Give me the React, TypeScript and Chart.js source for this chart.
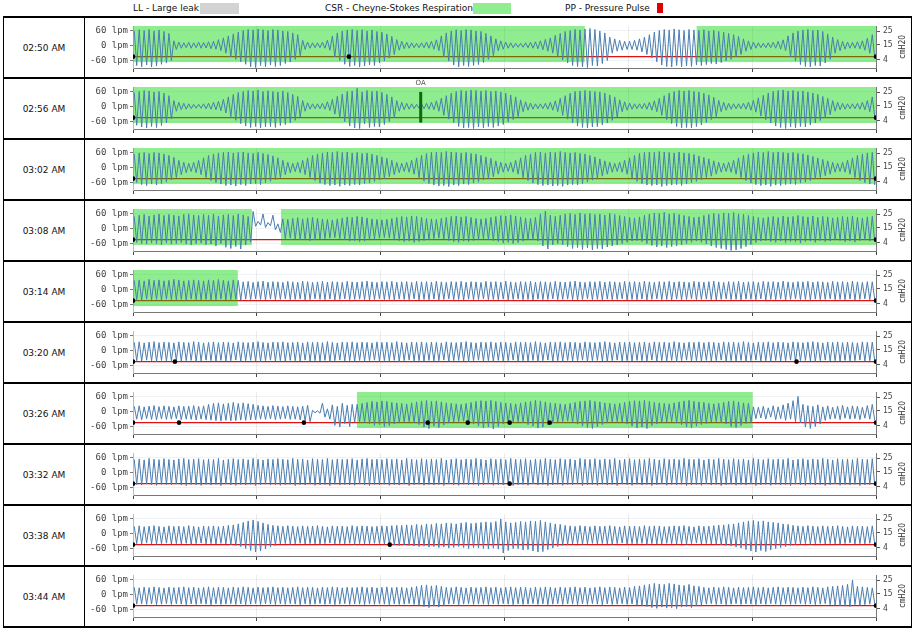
import React, { useEffect, useRef } from "react";
import { Chart, registerables } from "chart.js";
Chart.register(...registerables);

// ---------- data ----------
const ROW_TIMES = ["02:50 AM", "02:56 AM", "03:02 AM", "03:08 AM", "03:14 AM", "03:20 AM", "03:26 AM", "03:32 AM", "03:38 AM", "03:44 AM"];
const SPAN_SECONDS = 360;
const X_TICKS = [0, 60, 120, 180, 240, 300, 360];
const FLOW_TICKS = [-60, 0, 60];
const PRESSURE_TICKS = [4, 15, 25];

// flow peaks (inspiration) and troughs (expiration) per breath, lpm
const FLOW_PEAKS_1 = [60,65,62,66,60,64,58,50, 20,15,12,14,12,15,13,16,18, 25,32,40,48,55, 62,66,64,68,65,62,66,64,60,58,52,45, 22,15,12,12,15,22, 40,52,60,64,66,62,65,60,64,58,55,48,38, 25,18,14,12,10,12,15,18,24, 40,52,60,65,62,66,64,60,58,50,40, 28,20,15,12,10,10,12,14,16,20,26,32, 42,50,58,62,66,64,68, 70,66,60,52, 35,28,22,18,18,22,28,35, 45,55,62,66,64,68,65,62,66,64,62,65,60,62,58,55,50,45,38, 28,20,15,12,10,12,14,18,24, 40,52,60,64,66,62,64,58,48, 35,25,18,15,14,16,20,30,45];
const FLOW_TROUGHS_1 = [-80,-85,-78,-86,-82,-75,-70,-60, -15,-10,-8,-10,-8,-10,-9,-12,-14, -20,-30,-45,-55,-65, -75,-85,-88,-80,-86,-78,-84,-80,-72,-66,-55,-40, -15,-10,-8,-8,-10,-18, -45,-60,-75,-84,-80,-86,-82,-78,-80,-70,-62,-50,-35, -18,-12,-10,-8,-8,-8,-10,-14,-20, -45,-62,-78,-86,-80,-84,-80,-76,-68,-55,-40, -20,-14,-10,-8,-6,-6,-8,-10,-12,-16,-22,-30, -45,-58,-70,-80,-84,-86,-88, -80,-82,-72,-60, -30,-22,-18,-15,-15,-18,-25,-35, -50,-65,-78,-84,-86,-80,-85,-82,-84,-78,-80,-76,-72,-74,-68,-60,-55,-45,-35, -22,-15,-10,-8,-8,-8,-10,-14,-20, -45,-62,-76,-84,-86,-80,-82,-70,-55, -30,-20,-14,-10,-10,-12,-18,-30,-50];

const FLOW_PEAKS_2 = [58,62,66,64,60,62,55,45, 25,18,14,12,10,10,12,14,18,22, 30,40,50,58, 62,66,64,68,62,65,62,60,64,58,50,42, 25,16,12,12,14,20, 30,42,52,62,64,75,60,66,62,64,58,50,40, 25,18,14,12,10,12,14,18,24, 35,45,55,62,66,64,68,66,64,66,62,64,60,55,48,40, 28,20,15,12,12,14,18,24, 34,45,55,62,64,66,64,62,60,56,48,40, 28,20,15,12,12,14,18,24, 34,45,56,62,66,64,66,62,60,55,48,38, 26,18,14,12,12,14,18,26, 36,46,56,62,66,68,64,66,62,64,60,56,50,42,34, 25,18,14,12,12,14,18,25,40];
const FLOW_TROUGHS_2 = [-75,-82,-86,-80,-84,-76,-65,-50, -18,-12,-10,-8,-6,-6,-8,-10,-12,-16, -25,-40,-55,-68, -78,-84,-80,-86,-82,-80,-84,-76,-72,-66,-55,-42, -18,-10,-8,-8,-10,-15, -30,-45,-60,-78,-86,-88,-70,-84,-80,-82,-72,-60,-45, -18,-12,-10,-8,-6,-8,-10,-12,-18, -35,-50,-65,-80,-86,-84,-88,-82,-86,-80,-84,-78,-72,-62,-52,-40, -20,-14,-10,-8,-8,-10,-14,-20, -35,-50,-66,-78,-84,-86,-82,-80,-74,-66,-55,-42, -20,-14,-10,-8,-8,-10,-14,-20, -35,-52,-68,-80,-86,-84,-86,-80,-74,-64,-52,-40, -20,-14,-10,-8,-8,-10,-14,-22, -38,-52,-66,-78,-84,-88,-82,-86,-80,-82,-74,-66,-56,-44,-32, -18,-12,-10,-8,-8,-10,-12,-20,-40];

const FLOW_PEAKS_3 = [55,60,62,58,62,60,56,50,42, 30,22,18,22,30, 40,50,56,60,62,64,60,62,64,60,58,62,58,54,48,40, 30,22,18,22,30, 40,50,56,60,64,62,66,62,64,60,62,58,60,55,50,44,38, 30,22,18,22,30, 40,50,58,62,64,62,66,64,62,60,62,58,56,50,44,38, 28,22,18,22,30, 40,50,56,62,64,60,64,62,66,62,60,62,58,56,50,44,36, 28,22,18,22,30, 40,50,58,62,64,62,66,64,62,60,64,60,58,54,48,42,36, 28,22,18,22,30, 40,50,56,60,64,62,66,62,64,62,60,62,58,56,52,46,40,34, 28,22,18,22,30, 40,50,56,60,62];
const FLOW_TROUGHS_3 = [-60,-68,-72,-66,-70,-64,-58,-50,-40, -28,-20,-15,-20,-28, -40,-52,-60,-66,-72,-70,-74,-68,-72,-66,-64,-68,-60,-55,-48,-40, -28,-20,-16,-20,-28, -40,-52,-62,-68,-72,-70,-75,-70,-72,-68,-70,-64,-62,-56,-50,-44,-36, -28,-20,-15,-18,-26, -40,-54,-64,-70,-74,-72,-76,-70,-72,-66,-68,-62,-58,-50,-44,-36, -26,-18,-15,-18,-26, -40,-52,-62,-68,-72,-70,-74,-72,-75,-70,-68,-70,-64,-58,-50,-42,-34, -26,-18,-15,-18,-26, -42,-55,-64,-70,-72,-70,-76,-72,-70,-68,-72,-66,-60,-55,-48,-40,-34, -26,-18,-15,-18,-26, -40,-52,-62,-68,-72,-70,-75,-70,-72,-68,-66,-68,-62,-58,-52,-46,-40,-32, -26,-18,-15,-18,-26, -40,-52,-60,-66,-70];

const FLOW_PEAKS_4 = [50,55,58,52,56,60,54,58,55,52,58,60,56,54,58,55,60,52,56,58,54,60,56,50, 70,30,60,25,55,20, 40,38,42,45,40,44,46,42,40,38, 36,40,44,48,46,50,48,44,40,38, 36,38,42,46,50,48,52,50,46,42, 40,38,42,46,50,52,48,50,46,42, 40,42,46,50,54,52,56,52,48,44,42,46, 60,72,55,50, 55,60,62,58,64,60,62,58,60,56,62,58,54,50,46,44, 48,55,60,64,62,66,60,62,58,54,50,46, 48,54,58,62,60,64,62,66,60,58,54,50,46, 44,48,50,46,52,48,50,54,50,48,52,46,50,48,44,46,50,48,52,46,44,48,50];
const FLOW_TROUGHS_4 = [-55,-60,-62,-58,-60,-65,-58,-62,-60,-56,-62,-66,-60,-58,-64,-62,-70,-60,-75,-80,-72,-82,-66,-55, 10,15,5,12,-5,-15, -40,-38,-42,-45,-44,-48,-46,-42,-40,-38, -36,-40,-45,-50,-48,-52,-50,-46,-42,-38, -36,-38,-44,-48,-52,-50,-55,-52,-48,-44, -40,-38,-42,-48,-52,-55,-50,-52,-48,-44, -40,-44,-48,-52,-58,-55,-60,-56,-50,-46,-44,-50, -70,-82,-65,-60, -65,-72,-80,-76,-84,-78,-86,-80,-82,-74,-70,-66,-60,-55,-50,-48, -52,-60,-68,-74,-70,-76,-72,-70,-66,-60,-55,-50, -55,-62,-70,-76,-80,-84,-88,-86,-80,-72,-64,-56,-50, -48,-52,-55,-50,-56,-52,-54,-58,-52,-50,-55,-48,-52,-50,-46,-48,-52,-50,-54,-48,-46,-50,-52];

const FLOW_PEAKS_5 = [38,40,36,42,38,40,36,38,42,40,36,38,40,38,36,40,38,42,38,36,40,38,
32,34,30,33,35,31,33,32,30,34, 32,31,35,33,30,32,34,31,33,32, 30,34,32,31,33,35,32,30,33,32, 34,31,32,33,30,34,32,33,31,35, 32,30,33,32,34,31,33,32,30,34, 32,33,31,35,32,30,33,32,34,31, 33,32,30,34,32,31,33,35,32,30, 33,32,34,31,33,32,30,34,32,33, 31,35,32,30,33,32,34,31,33,32, 30,34,32,31,33,35,32,30,33,32, 34,31,32,33,30,34,32,33,31,35, 32,30,33,32,34,31,33,32,30,34, 32,33,31,35,32,30,33,32];
const FLOW_TROUGHS_5 = [-40,-42,-38,-41,-39,-42,-38,-40,-41,-39,-42,-38,-40,-41,-39,-42,-40,-38,-41,-40,-39,-42,
-38,-40,-37,-39,-41,-38,-40,-39,-37,-40, -39,-38,-41,-40,-37,-39,-40,-38,-41,-39, -37,-40,-39,-38,-40,-41,-39,-37,-40,-39, -41,-38,-39,-40,-37,-41,-39,-40,-38,-41, -39,-37,-40,-39,-41,-38,-40,-39,-37,-40, -39,-40,-38,-41,-39,-37,-40,-39,-41,-38, -40,-39,-37,-40,-39,-38,-40,-41,-39,-37, -40,-39,-41,-38,-40,-39,-37,-41,-39,-40, -38,-41,-39,-37,-40,-39,-41,-38,-40,-39, -37,-40,-39,-38,-40,-41,-39,-37,-40,-39, -41,-38,-39,-40,-37,-41,-39,-40,-38,-41, -39,-37,-40,-39,-41,-38,-40,-39,-37,-40, -39,-40,-38,-41,-39,-37,-40,-39];

const FLOW_PEAKS_6 = [34,36,32,35,37,33,35,34,32,36, 34,33,37,35,32,34,36,33,35,34, 32,36,34,33,35,37,34,32,35,34, 36,33,34,35,32,36,34,35,33,37, 34,32,35,34,36,33,35,34,32,36, 34,35,33,37,34,32,35,34,36,33, 35,34,32,36,34,33,35,37,34,32, 35,34,36,33,35,34,32,36,34,35, 33,37,34,32,35,34,36,33,35,34, 32,36,34,33,35,37,34,32,35,34, 36,33,34,35,32,36,34,35,33,37, 34,32,35,34,36,33,35,34,32,36, 34,35,33,37,34,32,35,34,36,33, 35,34,32,36,34,33,35,37,34,32, 35,34,36,33,35,34,32,36,34,35];
const FLOW_TROUGHS_6 = [-40,-42,-38,-41,-43,-39,-41,-40,-38,-42, -40,-39,-43,-41,-38,-40,-42,-39,-41,-40, -38,-42,-40,-39,-41,-43,-40,-38,-41,-40, -42,-39,-40,-41,-38,-42,-40,-41,-39,-43, -40,-38,-41,-40,-42,-39,-41,-40,-38,-42, -40,-41,-39,-43,-40,-38,-41,-40,-42,-39, -41,-40,-38,-42,-40,-39,-41,-43,-40,-38, -41,-40,-42,-39,-41,-40,-38,-42,-40,-41, -39,-43,-40,-38,-41,-40,-42,-39,-41,-40, -38,-42,-40,-39,-41,-43,-40,-38,-41,-40, -42,-39,-40,-41,-38,-42,-40,-41,-39,-43, -40,-38,-41,-40,-42,-39,-41,-40,-38,-42, -40,-41,-39,-43,-40,-38,-41,-40,-42,-39, -41,-40,-38,-42,-40,-39,-41,-43,-40,-38, -41,-40,-42,-39,-41,-40,-38,-42,-40,-41];

const FLOW_PEAKS_7 = [22,24,20,23,25,21,24,22,20,24, 22,23,25,22,24,30,34,36,32,35, 38,34,36,33,30,26,24,22,25,23, 21,24,22,20,23,26, 6,4,35,12, 28,22,34,26,30,
30,34,38,42,40,44,42,38,36,34, 32,36,40,44,46,42,44,40,36,34, 32,30,34,38,42,45,44,46,42,38, 36,34,32,36,40,42,46,44,40,36, 34,32,30,34,38,42,44,46,42,40, 36,34,32,34,38,42,45,44,46,42, 38,36,34,32,36,40,44,46,42,40, 38,34,32,34,38,42,44,40,36,34,
20,18,22,16,24,20,28,35,45,62,30,25,22,28,20,24,18,22,26,20,24,22,18,25,30];
const FLOW_TROUGHS_7 = [-30,-32,-28,-31,-33,-29,-31,-30,-28,-32, -30,-31,-33,-30,-32,-34,-36,-38,-35,-37, -36,-34,-35,-33,-32,-30,-31,-29,-32,-30, -28,-31,-30,-33,-36,-40, -4,-6,-22,-30, -55,-62,-48,-60,-42,
-40,-44,-48,-55,-52,-60,-56,-50,-46,-42, -40,-45,-52,-62,-68,-58,-64,-54,-46,-42, -40,-38,-44,-50,-58,-66,-62,-70,-60,-50, -46,-42,-40,-45,-52,-58,-66,-62,-54,-46, -42,-40,-38,-44,-50,-58,-64,-68,-60,-52, -46,-42,-40,-42,-50,-58,-66,-62,-68,-56, -50,-46,-42,-40,-46,-52,-62,-66,-58,-52, -48,-42,-40,-44,-50,-60,-64,-56,-48,-42,
-28,-25,-30,-22,-32,-28,-35,-30,-40,-45,-62,-68,-60,-50,-35,-30,-28,-32,-26,-30,-28,-32,-26,-30,-34];

const FLOW_PEAKS_8 = [54,56,52,58,55,53,57,54,52,56, 58,54,55,57,53,56,54,58,52,55, 57,54,56,53,58,55,52,56,54,57, 55,53,58,54,56,52,57,55,54,58, 53,56,54,55,57,52,56,58,54,55, 53,57,54,56,52,58,55,53,57,54, 56,54,58,52,55,57,53,56,54,58, 55,52,57,54,56,53,58,55,54,57, 52,56,54,58,55,53,57,54,56,52, 58,55,54,57,53,56,54,58,52,55, 57,53,56,54,58,55,52,57,54,56, 53,58,55,54,57,52,56,54,58,55, 53,57,54,56,52,58,55,53,57,54, 56,54,58,52,55,57,53,56,54,58, 55,52,57,54,56,53,58,55,54,57];
const FLOW_TROUGHS_8 = [-48,-50,-46,-49,-51,-47,-49,-48,-46,-50, -52,-48,-49,-51,-47,-50,-48,-52,-46,-49, -51,-48,-50,-47,-52,-49,-46,-50,-48,-51, -49,-47,-52,-48,-50,-46,-51,-49,-48,-52, -47,-50,-48,-49,-51,-46,-50,-52,-48,-49, -47,-51,-48,-50,-46,-52,-49,-47,-51,-48, -50,-48,-52,-46,-49,-51,-47,-50,-48,-52, -49,-46,-51,-48,-50,-47,-52,-49,-48,-51, -46,-50,-48,-52,-49,-47,-51,-48,-50,-46, -52,-49,-48,-51,-47,-50,-48,-52,-46,-49, -51,-47,-50,-48,-52,-49,-46,-51,-48,-50, -47,-52,-49,-48,-51,-46,-50,-48,-52,-49, -47,-51,-48,-50,-46,-52,-49,-47,-51,-48, -50,-48,-52,-46,-49,-51,-47,-50,-48,-52, -49,-46,-51,-48,-50,-47,-52,-49,-48,-51];

const FLOW_PEAKS_9 = [30,32,29,31,33,30,28,32,30,31, 29,33,30,28,31,30,32,29,31,34,36, 40,46,52,56,50,44,38,34, 32,30,33,31,29,32,30,31,33,30, 28,32,30,31,29,33,30,32,31,29, 30,32,31,33,34, 34,36,35,38,36,40,38,42,40,44, 42,40,44,46,42,44,46,48,46, 50,60,48,44, 46,50,48,52,50,54,48,44,40,38, 34,32,30,33,31,29,32,30,31,33, 30,28,32,30,31,29,33,30,32,31, 29,30,32,31,33,30,28,32,30,31, 33,35,36,38,40, 44,48,52,54,50,52,48,46,44,40,38, 34,32,30,33,31,29,32,30,31,33, 30,28,32,30,31,29,32];
const FLOW_TROUGHS_9 = [-40,-42,-38,-41,-43,-40,-38,-42,-40,-41, -39,-43,-40,-38,-41,-40,-42,-39,-41,-44,-48, -52,-60,-68,-74,-70,-62,-54,-48, -42,-40,-43,-41,-39,-42,-40,-41,-43,-40, -38,-42,-40,-41,-39,-43,-40,-42,-41,-39, -40,-42,-44,-46,-48, -46,-48,-50,-52,-50,-54,-52,-56,-54,-58, -55,-52,-56,-60,-56,-58,-60,-62,-58, -62,-78,-68,-60, -60,-66,-64,-70,-74,-72,-64,-58,-52,-48, -44,-42,-40,-43,-41,-39,-42,-40,-41,-43, -40,-38,-42,-40,-41,-39,-43,-40,-42,-41, -39,-40,-42,-41,-43,-40,-38,-42,-40,-41, -43,-46,-48,-50,-54, -58,-64,-70,-74,-68,-72,-66,-60,-56,-52,-48, -44,-42,-40,-43,-41,-39,-42,-40,-41,-43, -40,-38,-42,-40,-41,-39,-42];

const FLOW_PEAKS_10 = [30,28,31,29,32,30,28,31,29,30, 32,29,31,28,30,32,29,31,30,28, 31,29,32,30,28,31,29,30,32,29, 31,28,30,32,29,31,30,28,31,29, 32,30,28,31,29,30,32,29,31,28, 30,32,29,31,30,28,31,34, 38,40,36,38,34, 30,29,32,30,28,31,29,30,32,29, 31,28,30,32,29,31,30,28,31,29, 32,30,28,31,29,30,32,29,31,28, 30,32,29,31,30,28,31,29,34,36, 40,42,46,44,42,46,44,40,38,42,36,34, 30,28,31,29,32,30,28,31,29,30, 32,29,31,28,30,32,29,31,30,28, 31,29,32,30,28,32,34, 36,38,42,60,34,32,30,28];
const FLOW_TROUGHS_10 = [-38,-36,-39,-37,-40,-38,-36,-39,-37,-38, -40,-37,-39,-36,-38,-40,-37,-39,-38,-36, -39,-37,-40,-38,-36,-39,-37,-38,-40,-37, -39,-36,-38,-40,-37,-39,-38,-36,-39,-37, -40,-38,-36,-39,-37,-38,-40,-37,-39,-36, -38,-40,-37,-39,-38,-36,-39,-42, -48,-52,-46,-50,-44, -38,-37,-40,-38,-36,-39,-37,-38,-40,-37, -39,-36,-38,-40,-37,-39,-38,-36,-39,-37, -40,-38,-36,-39,-37,-38,-40,-37,-39,-36, -38,-40,-37,-39,-38,-36,-39,-37,-42,-44, -48,-52,-55,-50,-54,-52,-56,-50,-48,-52,-46,-42, -38,-36,-39,-37,-40,-38,-36,-39,-37,-38, -40,-37,-39,-36,-38,-40,-37,-39,-38,-36, -39,-37,-40,-38,-36,-40,-42, -44,-46,-48,-40,-42,-40,-38,-36];

// CSR periods [start s, end s]
const CSR_1 = [[0, 218.9], [273.1, 360]];
const CSR_2 = [[0, 360]];
const CSR_3 = [[0, 360]];
const CSR_4 = [[0, 57.6], [71.7, 360]];
const CSR_5 = [[0, 50.8]];
const CSR_7 = [[108.5, 300.2]];
const CSR_BAND = [80, -66]; // lpm extent of the band

// obstructive apnea events, seconds
const OA_2 = [139.4];
const OA_BAR = [60, -64];

// pressure (cmH2O) samples
const PRESSURE_T_1 = [0, 104.6, 360];
const PRESSURE_T_2 = [0, 360];
const PRESSURE_T_6 = [0, 20.3, 321.5, 360];
const PRESSURE_T_7 = [0, 22.3, 82.8, 142.8, 162.2, 182.5, 201.9, 360];
const PRESSURE_T_8 = [0, 182.5, 360];
const PRESSURE_T_9 = [0, 124.4, 360];
const PRESSURE_LEVEL = 6.3;

const ROWS = [
  { time: ROW_TIMES[0], peaks: FLOW_PEAKS_1, troughs: FLOW_TROUGHS_1, csr: CSR_1, oa: [], pt: PRESSURE_T_1 },
  { time: ROW_TIMES[1], peaks: FLOW_PEAKS_2, troughs: FLOW_TROUGHS_2, csr: CSR_2, oa: OA_2, pt: PRESSURE_T_2 },
  { time: ROW_TIMES[2], peaks: FLOW_PEAKS_3, troughs: FLOW_TROUGHS_3, csr: CSR_3, oa: [], pt: PRESSURE_T_2 },
  { time: ROW_TIMES[3], peaks: FLOW_PEAKS_4, troughs: FLOW_TROUGHS_4, csr: CSR_4, oa: [], pt: PRESSURE_T_2 },
  { time: ROW_TIMES[4], peaks: FLOW_PEAKS_5, troughs: FLOW_TROUGHS_5, csr: CSR_5, oa: [], pt: PRESSURE_T_2 },
  { time: ROW_TIMES[5], peaks: FLOW_PEAKS_6, troughs: FLOW_TROUGHS_6, csr: [], oa: [], pt: PRESSURE_T_6 },
  { time: ROW_TIMES[6], peaks: FLOW_PEAKS_7, troughs: FLOW_TROUGHS_7, csr: CSR_7, oa: [], pt: PRESSURE_T_7 },
  { time: ROW_TIMES[7], peaks: FLOW_PEAKS_8, troughs: FLOW_TROUGHS_8, csr: [], oa: [], pt: PRESSURE_T_8 },
  { time: ROW_TIMES[8], peaks: FLOW_PEAKS_9, troughs: FLOW_TROUGHS_9, csr: [], oa: [], pt: PRESSURE_T_9 },
  { time: ROW_TIMES[9], peaks: FLOW_PEAKS_10, troughs: FLOW_TROUGHS_10, csr: [], oa: [], pt: PRESSURE_T_2 },
];

// ---------- drawing ----------
const overlayPlugin = {
  id: "overlay",
  // band is painted after the pressure line and before the flow line
  beforeDatasetDraw(chart: any, args: any, opts: any) {
    if (args.index !== 0) return;
    const { ctx, scales } = chart;
    const xs = scales.x, ys = scales.y;
    ctx.save();
    ctx.fillStyle = "rgba(0,215,0,0.44)";
    for (const [s, e] of opts.csr || []) {
      const x0 = xs.getPixelForValue(s), x1 = xs.getPixelForValue(e);
      const y0 = ys.getPixelForValue(CSR_BAND[0]), y1 = ys.getPixelForValue(CSR_BAND[1]);
      ctx.fillRect(x0, y0, x1 - x0, y1 - y0);
    }
    ctx.restore();
  },
  afterDatasetsDraw(chart: any, _a: any, opts: any) {
    const { ctx, chartArea, scales } = chart;
    const xs = scales.x, ys = scales.y;
    ctx.save();
    for (const t of opts.oa || []) {
      const px = xs.getPixelForValue(t);
      const y0 = ys.getPixelForValue(OA_BAR[0]), y1 = ys.getPixelForValue(OA_BAR[1]);
      ctx.fillStyle = "#0c6a0c";
      ctx.fillRect(px - 1.5, y0, 3, y1 - y0);
      ctx.fillStyle = "#555";
      ctx.font = "7px 'DejaVu Sans'";
      ctx.textAlign = "center";
      ctx.textBaseline = "bottom";
      ctx.fillText("OA", px, chartArea.top);
    }
    ctx.restore();
  },
  afterDraw(chart: any) {
    const { ctx, chartArea } = chart;
    ctx.save();
    ctx.translate(chart.width - 8, (chartArea.top + chartArea.bottom) / 2);
    ctx.rotate(-Math.PI / 2);
    ctx.font = "8px 'DejaVu Sans Mono'";
    ctx.fillStyle = "#333";
    ctx.textAlign = "center";
    ctx.textBaseline = "middle";
    ctx.fillText("cmH2O", 0, 0);
    ctx.restore();
  },
};

function FlowChart({ row }: { row: any }) {
  const ref = useRef<HTMLCanvasElement>(null);
  useEffect(() => {
    if (!ref.current) return;
    const n = row.peaks.length;
    const flow: { x: number; y: number }[] = [];
    for (let i = 0; i < n; i++) {
      flow.push({ x: ((i + 0.25) * SPAN_SECONDS) / n, y: row.peaks[i] });
      flow.push({ x: ((i + 0.75) * SPAN_SECONDS) / n, y: row.troughs[i] });
    }
    const pressure = row.pt.map((t: number) => ({ x: t, y: PRESSURE_LEVEL }));
    const chart = new Chart(ref.current, {
      type: "line",
      data: {
        datasets: [
          { data: flow, borderColor: "#4a7db0", borderWidth: 1, pointRadius: 0, yAxisID: "y", tension: 0, order: 1 },
          { data: pressure, borderColor: "#e41010", borderWidth: 1.2, pointRadius: 0, yAxisID: "y2", order: 2 },
          { data: pressure, showLine: false, pointRadius: 2.3, pointBackgroundColor: "#000", pointBorderColor: "#000", pointBorderWidth: 0, yAxisID: "y2", order: 0 },
        ],
      },
      options: {
        animation: false,
        responsive: false,
        devicePixelRatio: 1,
        layout: { padding: { top: 8, left: 0, right: 0, bottom: 0 } },
        plugins: { legend: { display: false }, tooltip: { enabled: false }, overlay: { csr: row.csr, oa: row.oa } } as any,
        scales: {
          x: {
            type: "linear", min: 0, max: SPAN_SECONDS,
            afterBuildTicks: (s: any) => { s.ticks = X_TICKS.map((v) => ({ value: v })); },
            ticks: { display: false },
            grid: { color: "rgba(0,0,0,0.08)", tickColor: "#444", tickLength: 4 },
            border: { color: "#777" },
            afterFit: (s: any) => { s.height = 9; },
          },
          y: {
            position: "left", min: -90, max: 80,
            afterBuildTicks: (s: any) => { s.ticks = FLOW_TICKS.map((v) => ({ value: v })); },
            ticks: { callback: (v: any) => `${v} lpm`, font: { family: "'DejaVu Sans Mono'", size: 9 }, color: "#444", padding: 2 },
            grid: { color: "rgba(120,150,190,0.12)", tickColor: "#777", tickLength: 3 },
            border: { color: "#bbb" },
            afterFit: (s: any) => { s.width = 48; },
          },
          y2: {
            position: "right", min: -2, max: 28.65,
            afterBuildTicks: (s: any) => { s.ticks = PRESSURE_TICKS.map((v) => ({ value: v })); },
            ticks: { font: { family: "'DejaVu Sans Mono'", size: 8 }, color: "#444", padding: 3 },
            grid: { drawOnChartArea: false, tickColor: "#555", tickLength: 4 },
            border: { color: "#777" },
            afterFit: (s: any) => { s.width = 35; },
          },
        },
      } as any,
      plugins: [overlayPlugin as any],
    });
    return () => chart.destroy();
  }, [row]);
  return <canvas ref={ref} width={826} height={59} style={{ display: "block", width: 826, height: 59 }} />;
}

export default function App() {
  const font = "'DejaVu Sans', sans-serif";
  return (
    <div style={{ position: "absolute", left: 0, top: 0, width: 920, height: 633, fontFamily: font, background: "#fff" }}>
      <div style={{ position: "absolute", left: 133, top: 2, fontSize: 9, color: "#111", lineHeight: "12px" }}>LL - Large leak</div>
      <div style={{ position: "absolute", left: 200, top: 3, width: 39, height: 11, background: "#d3d3d3" }} />
      <div style={{ position: "absolute", left: 325, top: 2, fontSize: 9, color: "#111", lineHeight: "12px" }}>CSR - Cheyne-Stokes Respiration</div>
      <div style={{ position: "absolute", left: 473, top: 3, width: 38, height: 11, background: "#90ee90" }} />
      <div style={{ position: "absolute", left: 565, top: 2, fontSize: 9, color: "#111", lineHeight: "12px" }}>PP - Pressure Pulse</div>
      <div style={{ position: "absolute", left: 657, top: 3, width: 6, height: 10, background: "#e00000" }} />
      {ROWS.map((row, k) => (
        <div key={k} style={{ position: "absolute", left: 3, top: 16 + 61 * k, width: 909, height: k === ROWS.length - 1 ? 63 : 61, boxSizing: "border-box", borderTop: "2px solid #000", borderLeft: "1px solid #000", borderRight: "1px solid #000", borderBottom: k === ROWS.length - 1 ? "2px solid #000" : "none", display: "flex" }}>
          <div style={{ width: 80, borderRight: "1px solid #000", display: "flex", alignItems: "center", justifyContent: "center", fontSize: 9, color: "#111", height: 59 }}>{row.time}</div>
          <FlowChart row={row} />
        </div>
      ))}
    </div>
  );
}
